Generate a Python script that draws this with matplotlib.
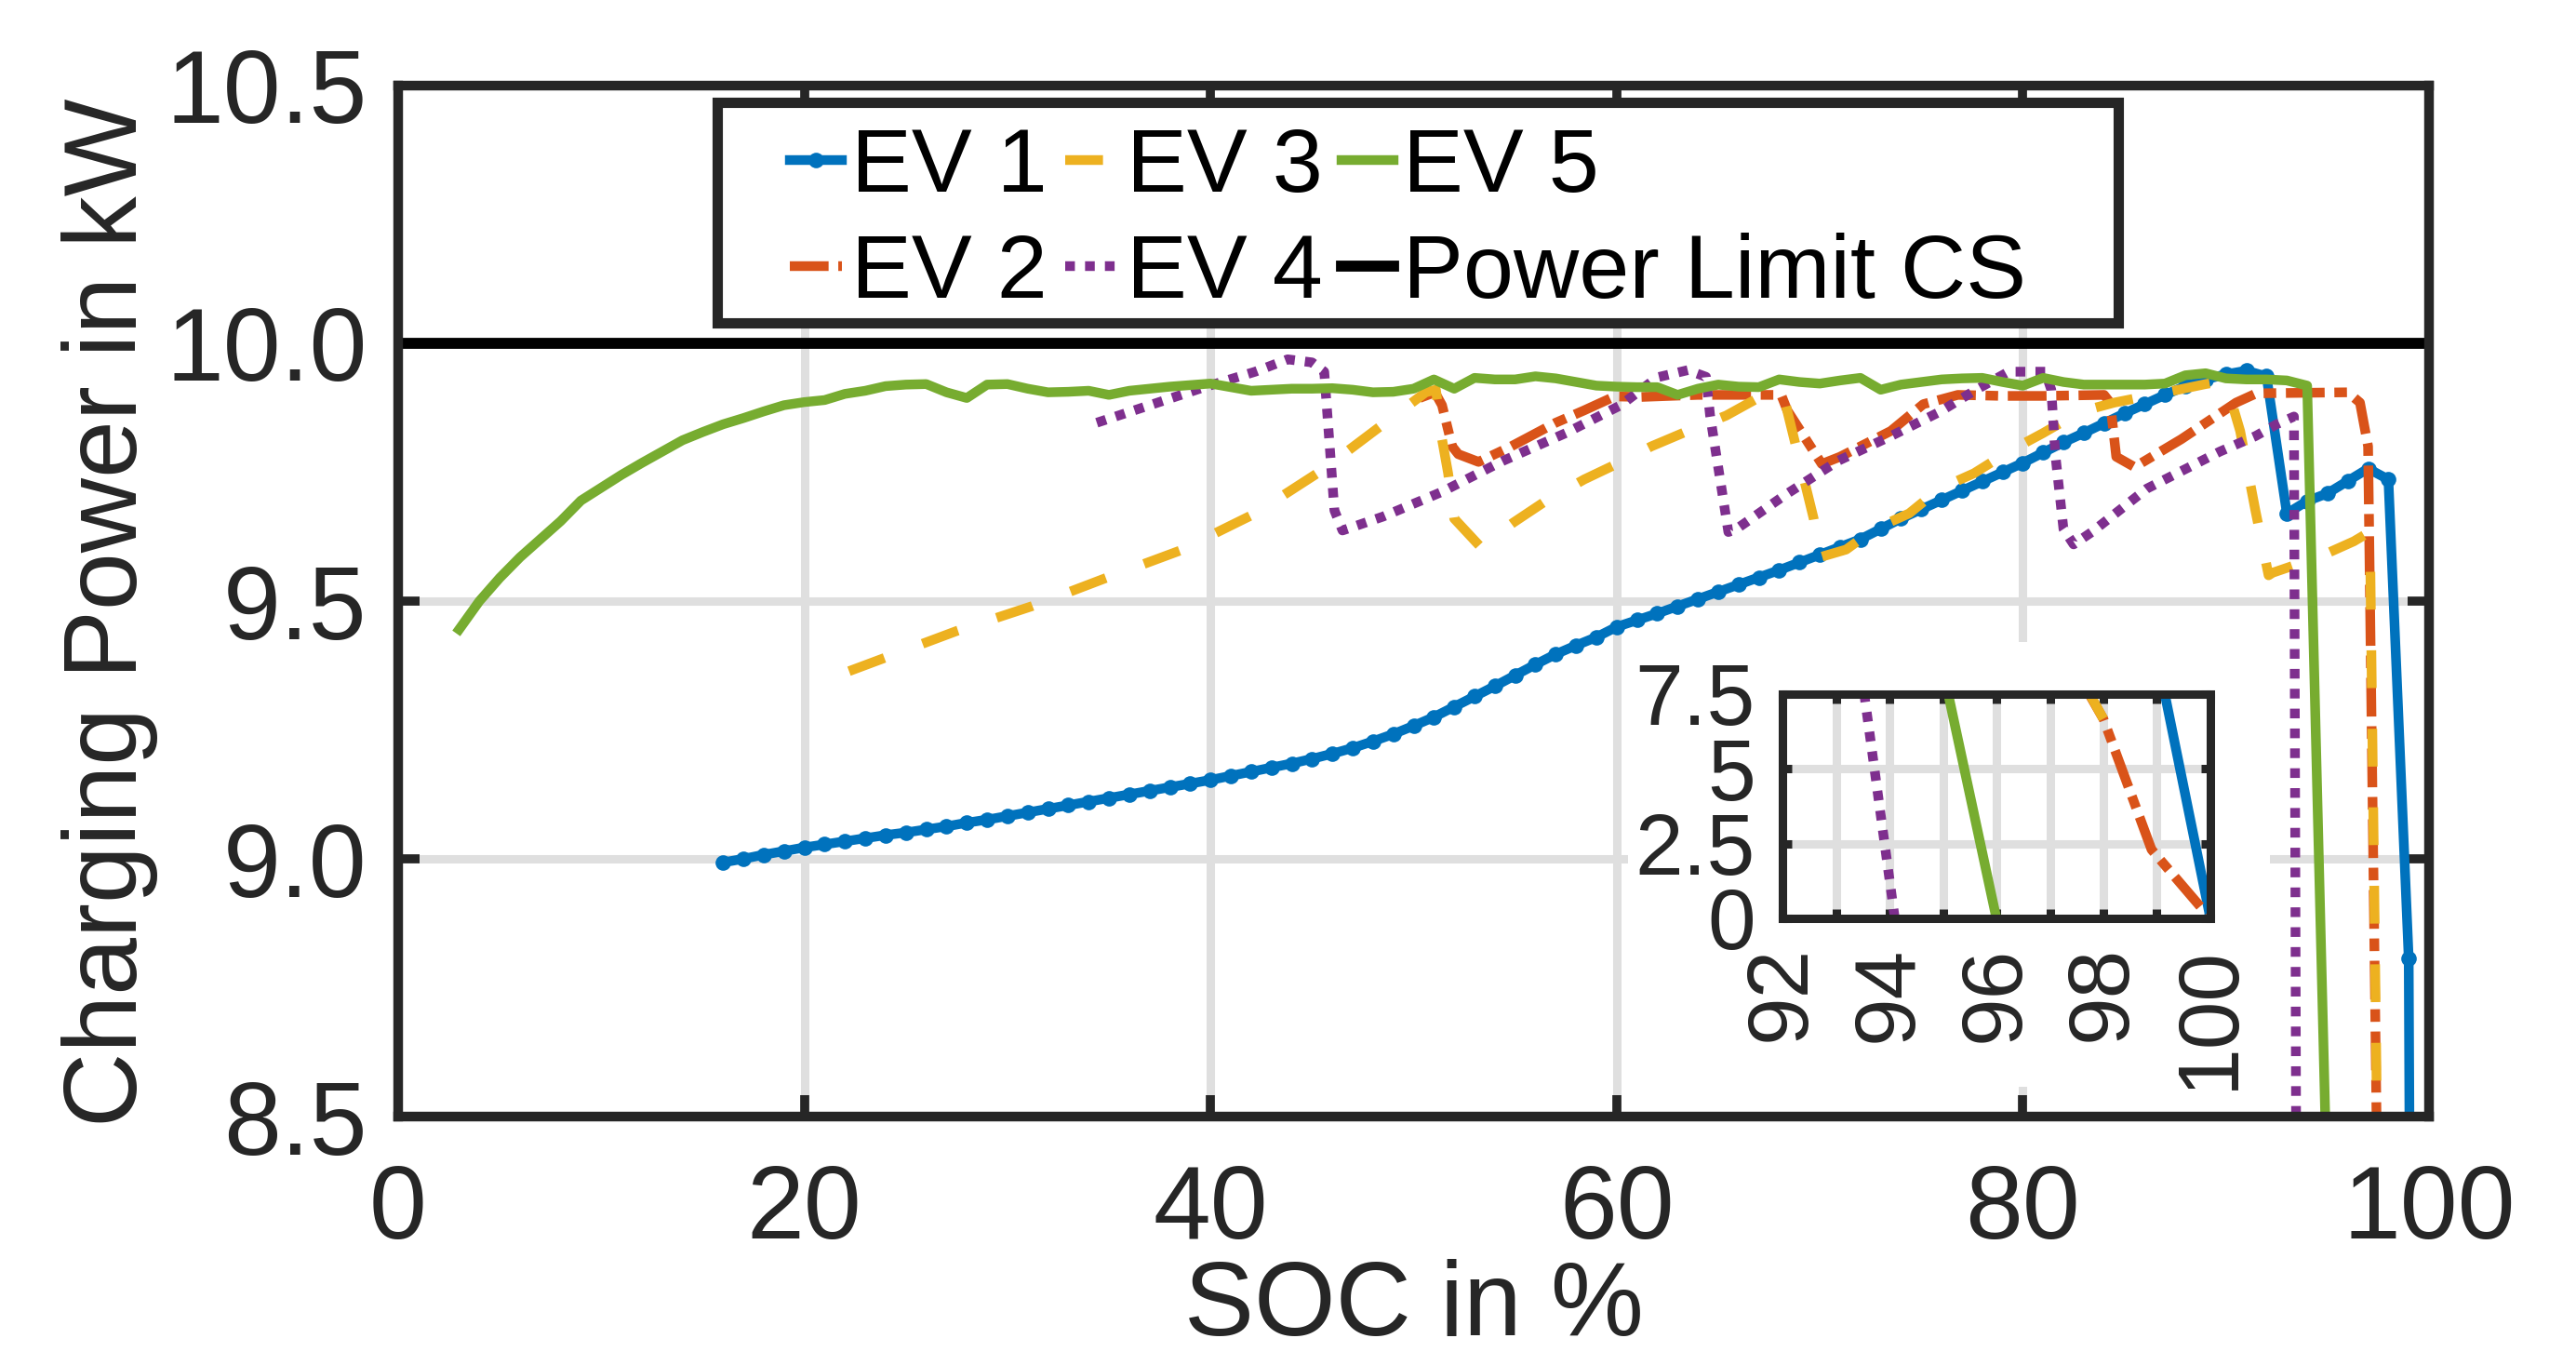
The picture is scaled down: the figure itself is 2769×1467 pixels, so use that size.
import numpy as np
import matplotlib.pyplot as plt
from matplotlib.patches import Rectangle

plt.rcParams['font.family'] = ['Liberation Sans', 'DejaVu Sans']

# ---- data (SOC in %, power in kW) ----
ev1_soc = list(range(16, 101))
ev1_kw = [8.993, 9.000, 9.008, 9.015, 9.022, 9.028, 9.034, 9.040, 9.046, 9.051,
          9.057, 9.063, 9.070, 9.076, 9.083, 9.090, 9.097, 9.104, 9.111, 9.118,
          9.125, 9.132, 9.139, 9.146, 9.153, 9.161, 9.169, 9.177, 9.185, 9.194,
          9.204, 9.215, 9.228, 9.242, 9.258, 9.275, 9.295, 9.315, 9.335, 9.356,
          9.377, 9.397, 9.414, 9.430, 9.450, 9.463, 9.476, 9.490, 9.504, 9.518,
          9.532, 9.546, 9.560, 9.575, 9.590, 9.605, 9.620, 9.640, 9.660, 9.678,
          9.696, 9.714, 9.732, 9.750, 9.768, 9.788, 9.808, 9.826, 9.845, 9.864,
          9.882, 9.900, 9.917, 9.930, 9.940, 9.947, 9.936, 9.670, 9.694, 9.709,
          9.733, 9.757, 9.736, 8.807, 0.0]

ev2_soc = [50.3, 51.05, 51.4, 51.9, 52.2, 53.2, 54.8, 57.0, 58.4, 59.9, 61.2, 64.0,
           66.0, 68.1, 68.4, 70.1, 71.0, 73.5, 75.1, 76.8, 79.0, 81.0, 84.0, 84.3,
           84.6, 85.5, 87.8, 90.5, 91.5, 96.0, 96.6, 97.0, 98.0, 98.9, 100.0]
ev2_kw = [9.894, 9.905, 9.88, 9.80, 9.785, 9.77, 9.80, 9.846, 9.87, 9.897, 9.896, 9.90,
          9.90, 9.90, 9.87, 9.766, 9.78, 9.83, 9.882, 9.90, 9.898, 9.898, 9.90, 9.885,
          9.78, 9.76, 9.814, 9.885, 9.903, 9.905, 9.885, 9.80, 6.67, 2.3, 0.0]

ev3_soc = [22.2, 27.5, 31.2, 34.8, 38.5, 42.2, 45.5, 48.7, 50.6, 51.1, 51.4, 51.7,
           52.0, 53.3, 54.9, 56.5, 58.4, 60.0, 61.7, 63.5, 65.4, 67.1, 67.8, 68.3,
           69.7, 70.0, 71.3, 72.7, 74.4, 75.9, 77.6, 79.3, 81.0, 82.8, 84.5, 86.8,
           89.0, 89.6, 90.2, 90.7, 91.45, 92.1, 92.3, 94.6, 96.3, 96.9, 97.1, 98.0]
ev3_kw = [9.364, 9.442, 9.490, 9.544, 9.598, 9.670, 9.754, 9.849, 9.905, 9.91, 9.814, 9.748,
          9.66, 9.605, 9.652, 9.694, 9.736, 9.766, 9.80, 9.83, 9.86, 9.897, 9.905, 9.885,
          9.66, 9.585, 9.60, 9.64, 9.67, 9.718, 9.748, 9.79, 9.826, 9.867, 9.885, 9.903,
          9.921, 9.925, 9.897, 9.83, 9.676, 9.55, 9.555, 9.586, 9.616, 9.63, 9.60, 6.67]

ev4_soc = [34.4, 39.7, 42.2, 43.8, 45.0, 45.6, 46.1, 46.5, 48.5, 51.4, 54.4, 57.5,
           60.2, 62.0, 63.5, 64.4, 64.6, 65.5, 65.9, 68.3, 70.9, 73.5, 75.9, 77.7,
           79.3, 80.5, 81.1, 81.4, 81.6, 82.0, 82.5, 83.4, 86.1, 89.7, 91.45, 92.5,
           93.35, 94.1]
ev4_kw = [9.846, 9.915, 9.945, 9.969, 9.963, 9.945, 9.676, 9.637, 9.664, 9.712, 9.772, 9.826,
          9.88, 9.934, 9.948, 9.935, 9.86, 9.634, 9.64, 9.706, 9.772, 9.82, 9.867, 9.91,
          9.945, 9.945, 9.945, 9.91, 9.784, 9.64, 9.61, 9.634, 9.718, 9.79, 9.82, 9.843,
          9.858, 0.0]

ev5_soc = list(range(3, 97))
ev5_kw = [9.445, 9.50, 9.545, 9.585, 9.62, 9.655, 9.695, 9.72, 9.745, 9.768,
          9.79, 9.812, 9.828, 9.843, 9.855, 9.868, 9.88, 9.886, 9.89, 9.902,
          9.908, 9.917, 9.92, 9.921, 9.905, 9.894, 9.92, 9.921, 9.912, 9.905,
          9.906, 9.908, 9.900, 9.908, 9.912, 9.916, 9.919, 9.922, 9.915, 9.908,
          9.91, 9.912, 9.912, 9.913, 9.91, 9.905, 9.906, 9.912, 9.93, 9.912,
          9.933, 9.93, 9.93, 9.936, 9.932, 9.925, 9.918, 9.916, 9.915, 9.915,
          9.90, 9.912, 9.92, 9.916, 9.915, 9.93, 9.925, 9.922, 9.928, 9.933,
          9.91, 9.92, 9.925, 9.93, 9.932, 9.933, 9.925, 9.918, 9.933, 9.925,
          9.92, 9.92, 9.92, 9.92, 9.922, 9.938, 9.942, 9.932, 9.93, 9.93,
          9.928, 9.918, 8.325, 0.0]

limit_soc = [0, 100]
limit_kw = [10.0, 10.0]

c_ev1 = '#0072BD'
c_ev2 = '#D95319'
c_ev3 = '#EDB120'
c_ev4 = '#7E2F8E'
c_ev5 = '#77AC30'
ink = '#262626'
grid_c = '#dfdfdf'
lw = 7.5


def draw_curves(a):
    a.plot(ev1_soc, ev1_kw, color=c_ev1, lw=lw, marker='o', ms=12, mew=0, label='EV 1')
    a.plot(ev2_soc, ev2_kw, color=c_ev2, lw=lw, dashes=(4.0, 1.0, 1.3, 1.0), label='EV 2')
    a.plot(ev3_soc, ev3_kw, color=c_ev3, lw=lw, dashes=(3.9, 4.2), label='EV 3')
    a.plot(ev4_soc, ev4_kw, color=c_ev4, lw=lw, dashes=(1.0, 1.05), label='EV 4')
    a.plot(ev5_soc, ev5_kw, color=c_ev5, lw=lw, label='EV 5')
    a.plot(limit_soc, limit_kw, color='black', lw=8.5, label='Power Limit CS')


fig = plt.figure(figsize=(27.69, 14.67), dpi=100)
ax = fig.add_axes([0.15457, 0.18200, 0.78837, 0.75529])
draw_curves(ax)

ax.set_xlim(0, 100)
ax.set_ylim(8.5, 10.5)
ax.set_xticks([0, 20, 40, 60, 80, 100])
ax.set_yticks([8.5, 9.0, 9.5, 10.0, 10.5])
ax.set_yticklabels(['8.5', '9.0', '9.5', '10.0', '10.5'])
ax.grid(True, color=grid_c, lw=6.5)
ax.set_axisbelow(True)
ax.tick_params(direction='in', length=16.5, width=7, top=True, right=True,
               labelsize=80, colors=ink, pad=24)
ax.tick_params(axis='x', pad=36)
for s in ax.spines.values():
    s.set_linewidth(7.5)
    s.set_color(ink)
ax.set_xlabel('SOC in %', fontsize=81, color=ink)
ax.set_ylabel('Charging Power in kW', fontsize=80, color=ink)
ax.xaxis.set_label_coords(0.5, -0.138)
ax.yaxis.set_label_coords(-0.118, 0.489)

# white area behind the inset and its labels
ax.add_patch(Rectangle((1750 / 2769, 1 - 1168 / 1467), 690 / 2769, 478 / 1467,
                       transform=fig.transFigure, facecolor='white', edgecolor='none',
                       zorder=0.8, clip_on=False))

# legend: frame drawn separately, entries placed inside
ax.add_patch(Rectangle((0.27844, 0.76346), 0.54388, 0.16156, transform=fig.transFigure,
                       facecolor='white', edgecolor=ink, lw=8, zorder=4.9, clip_on=False))
handles, labels = ax.get_legend_handles_labels()
leg = ax.legend(handles, labels, ncol=3, loc='upper left',
                bbox_to_anchor=(0.30661, 0.90729), bbox_transform=fig.transFigure,
                frameon=False, fontsize=70, handlelength=0.58, handletextpad=0.1,
                columnspacing=0.2, labelspacing=0.25, borderpad=0, borderaxespad=0,
                numpoints=1)
leg.set_zorder(5)

# inset zoom on the end of charging
ins = fig.add_axes([0.69195, 0.32720, 0.16612, 0.16428])
draw_curves(ins)
ins.set_xlim(92, 100)
ins.set_ylim(0, 7.5)
ins.set_xticks(range(92, 101))
ins.set_xticklabels(['92', '', '94', '', '96', '', '98', '', '100'], rotation=90)
ins.set_yticks([0, 2.5, 5, 7.5])
ins.set_yticklabels(['0', '2.5', '5', '7.5'])
ins.grid(True, color=grid_c, lw=6.5)
ins.set_axisbelow(True)
ins.tick_params(direction='in', length=7, width=6.5, top=True, right=True,
                labelsize=67, colors=ink, pad=21)
for s in ins.spines.values():
    s.set_linewidth(6.5)
    s.set_color(ink)

fig.savefig('out.png', dpi=100)
